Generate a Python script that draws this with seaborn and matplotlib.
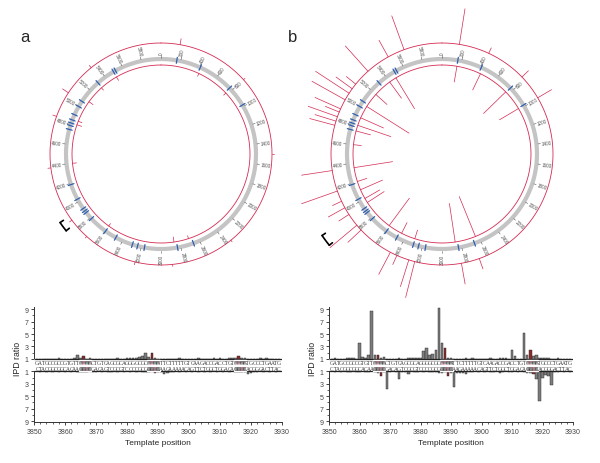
import numpy as np
import matplotlib
matplotlib.use("Agg")
import matplotlib.pyplot as plt
from matplotlib.patches import Rectangle
import pandas as pd
import seaborn as sns

# ---- circular map data (bp positions, spike lengths in px) ----
genome_len = 6000
ring_ticks = list(range(0, 6000, 200))
site_pos = [160, 407, 768, 983, 2667, 2833, 3167, 3238, 3292, 3473, 3595, 3785,
            3866, 3888, 3916, 4027, 4187, 4750, 4790, 4817, 4850, 4907, 5000,
            5061, 5308, 5500, 5523]

a_out_pos = [165, 800, 1500, 2350, 2900, 3225, 3700, 3890, 4380, 4830, 5058, 5350]
a_out_len = [6, 2, 2, 2, 2, 3, 2, 3, 3, 4, 7, 3]
a_in_pos = [420, 780, 2700, 2860, 3600, 4400, 4820, 4860, 5100, 5300, 5500]
a_in_len = [3, 3, 3, 5, 3, 4, 5, 4, 5, 3, 4]

b_out_pos = [150, 415, 768, 993, 2673, 2832, 3237, 3290, 3400, 3462, 3780, 3835,
             3950, 4017, 4080, 4175, 4357, 4750, 4787, 4827, 4870, 4900, 4987,
             5053, 5100, 5150, 5303, 5517, 5667]
b_out_len = [36, 6, 9, 16, 11, 21, 37, 28, 10, 25, 18, 35, 12, 19, 10, 38, 31,
             26, 22, 31, 15, 28, 38, 40, 20, 12, 34, 19, 36]
b_in_pos = [161, 427, 762, 988, 2632, 2858, 3297, 3450, 3607, 3950, 4000, 4105,
            4200, 4353, 4600, 4750, 4813, 4900, 5038, 5200, 5400, 5480]
b_in_len = [16, 18, 31, 22, 43, 39, 9, 12, 34, 20, 17, 24, 10, 39, 8, 15, 35,
            25, 50, 15, 20, 36]

# ---- IPD ratio data ----
positions = list(range(3851, 3930))
top_seq = "GATGCCGCCGTGTTCCGGCTGTCAGCGCAGGGGCGCCCGGTTCTTTTTGTCAAGACCGACCTGTCCGGTGCCCTGAATG"
bot_seq = "CTACGGCGGCACAAGGCCGACAGTCGCGTCCCCGCGGGCCAAGAAAAACAGTTCTGGCTGGACAGGCCACGGGACTTAC"
motif_start = [3865, 3887, 3915]
top_meth = [3866, 3888, 3916]
bot_meth = [3867, 3889, 3917]

a_top = [1.05, 1.0, 1.05, 1.0, 1.05, 1.0, 1.05, 1.1, 1.0, 1.05,
         1.0, 1.05, 1.1, 1.6, 1.2, 1.4, 1.05, 1.1, 1.0, 1.05,
         1.0, 1.05, 1.0, 1.05, 1.0, 1.05, 1.1, 1.0, 1.05, 1.1,
         1.1, 1.15, 1.2, 1.3, 1.5, 1.9, 1.3, 1.95, 1.1, 1.05,
         1.0, 1.05, 1.0, 1.05, 1.0, 1.05, 1.1, 1.0, 1.05, 1.0,
         1.05, 1.0, 1.1, 1.0, 1.05, 1.0, 1.05, 1.1, 1.05, 1.15,
         1.05, 1.0, 1.1, 1.15, 1.2, 1.5, 1.2, 1.1, 1.05, 1.0,
         1.05, 1.0, 1.1, 1.05, 1.15, 1.0, 1.05, 1.0, 1.05]
a_bot = [1.0, 1.05, 1.0, 1.05, 1.0, 1.05, 1.0, 1.05, 1.0, 1.05,
         1.0, 1.05, 1.0, 1.05, 1.1, 1.05, 1.15, 1.0, 1.1, 1.15,
         1.0, 1.05, 1.0, 1.1, 1.15, 1.0, 1.05, 1.0, 1.05, 1.0,
         1.05, 1.0, 1.05, 1.0, 1.05, 1.1, 1.05, 1.0, 1.2, 1.05,
         1.1, 1.4, 1.3, 1.1, 1.05, 1.0, 1.05, 1.0, 1.05, 1.0,
         1.05, 1.0, 1.05, 1.0, 1.05, 1.0, 1.05, 1.0, 1.05, 1.0,
         1.05, 1.0, 1.05, 1.0, 1.05, 1.1, 1.15, 1.1, 1.5, 1.25,
         1.1, 1.05, 1.0, 1.05, 1.0, 1.05, 1.0, 1.05, 1.0]
b_top = [1.05, 1.1, 1.0, 1.05, 1.0, 1.1, 1.15, 1.2, 1.0, 3.5,
         1.25, 1.2, 1.7, 8.7, 1.6, 1.6, 1.1, 1.3, 1.0, 1.05,
         1.0, 1.05, 1.1, 1.0, 1.05, 1.1, 1.15, 1.1, 1.2, 1.1,
         2.2, 2.8, 1.6, 1.8, 2.4, 9.2, 3.5, 2.7, 1.2, 1.15,
         1.05, 1.0, 1.05, 1.0, 1.1, 1.05, 1.1, 1.0, 1.05, 1.0,
         1.05, 1.0, 1.1, 1.0, 1.05, 1.1, 1.2, 1.1, 1.05, 2.4,
         1.4, 1.0, 1.05, 5.1, 1.7, 2.5, 1.4, 1.6, 1.2, 1.1,
         1.15, 1.1, 1.05, 1.0, 1.2, 1.0, 1.05, 1.0, 1.05]
b_bot = [1.0, 1.05, 1.0, 1.1, 1.0, 1.05, 1.1, 1.0, 1.05, 1.1,
         1.0, 1.05, 1.1, 1.0, 1.1, 1.3, 1.8, 1.1, 3.9, 1.1,
         1.0, 1.05, 2.3, 1.1, 1.05, 1.4, 1.0, 1.1, 1.05, 1.0,
         1.05, 1.0, 1.1, 1.05, 1.1, 1.2, 1.3, 1.1, 1.7, 1.2,
         3.5, 1.3, 1.3, 1.2, 1.45, 1.1, 1.05, 1.0, 1.05, 1.0,
         1.05, 1.0, 1.05, 1.1, 1.0, 1.2, 1.1, 1.0, 1.05, 1.1,
         1.0, 1.05, 1.0, 1.1, 1.2, 1.3, 1.5, 2.2, 5.7, 2.1,
         1.6, 1.8, 3.2, 1.1, 1.05, 1.0, 1.05, 1.0, 1.05]

sns.set_style("ticks")
plt.rcParams['font.family'] = ['Liberation Sans', 'DejaVu Sans']

RED = '#d42a52'
W, H = 600, 464
fig = plt.figure(figsize=(6, 4.64), dpi=100)

R_OUT, R_RING, R_IN = 111, 95, 89


def theta(p):
    return 2 * np.pi * p / genome_len


def draw_map(cx, cy, out_pos, out_len, in_pos, in_len, br_r):
    R = 160
    ax = fig.add_axes([(cx - R) / W, (H - cy - R) / H, 2 * R / W, 2 * R / H],
                      projection='polar')
    ax.set_theta_zero_location('N')
    ax.set_theta_direction(-1)
    ax.set_ylim(0, R)
    ax.axis('off')
    ax.patch.set_visible(False)
    th = np.linspace(0, 2 * np.pi, 721)
    ax.plot(th, np.full_like(th, R_RING), color='#c4c4c4', lw=3.0, zorder=1)
    ax.plot(th, np.full_like(th, R_OUT), color=RED, lw=0.6)
    ax.plot(th, np.full_like(th, R_IN), color=RED, lw=0.6)
    for p, h in zip(out_pos, out_len):
        ax.plot([theta(p)] * 2, [R_OUT, R_OUT + h], color=RED, lw=0.5)
    for p, h in zip(in_pos, in_len):
        ax.plot([theta(p)] * 2, [R_IN, R_IN - h], color=RED, lw=0.5)
    for p in site_pos:
        ax.plot([theta(p)] * 2, [R_RING - 3, R_RING + 3], color='#2f5fb0', lw=0.9, zorder=3)
    for v in ring_ticks:
        t = theta(v)
        ax.plot([t, t], [R_RING + 1.5, R_RING + 4], color='#555', lw=0.4)
        deg = np.degrees(t)
        if deg < 180:
            rot, ha = 90 - deg, 'left'
        else:
            rot, ha = 270 - deg, 'right'
        ax.text(t, R_RING + 5, str(v), rotation=rot, ha=ha, va='center',
                rotation_mode='anchor', fontsize=3.3, color='#555')
    # bracket marking the zoomed region
    tb = np.linspace(theta(3850), theta(3930), 20)
    ax.plot(tb, np.full_like(tb, br_r), color='black', lw=1.2)
    for t in (tb[0], tb[-1]):
        ax.plot([t, t], [br_r, br_r - 4], color='black', lw=1.2)
    return ax


draw_map(161, 155, a_out_pos, a_out_len, a_in_pos, a_in_len, 122)
draw_map(442, 155, b_out_pos, b_out_len, b_in_pos, b_in_len, 145)
fig.text(25 / W, 1 - 38 / H, 'a', fontsize=12, ha='center', va='center')
fig.text(293 / W, 1 - 38 / H, 'b', fontsize=12, ha='center', va='center')

pal = {'plain': '#7d7d7d', 'site': '#9b1c1c'}


def draw_ipd(x0, x1, top_vals, bot_vals):
    y0, y1 = 308, 423
    ax = fig.add_axes([x0 / W, (H - y1) / H, (x1 - x0) / W, (y1 - y0) / H])
    top = pd.DataFrame({'pos': positions, 'ipd': top_vals,
                        'kind': ['site' if p in top_meth else 'plain' for p in positions]})
    bot = pd.DataFrame({'pos': positions, 'ipd': [-v for v in bot_vals],
                        'kind': ['site' if p in bot_meth else 'plain' for p in positions]})
    for df in (top, bot):
        sns.barplot(data=df, x='pos', y='ipd', hue='kind', palette=pal,
                    native_scale=True, dodge=False, width=0.8, errorbar=None,
                    edgecolor='#222', linewidth=0.3, legend=False, ax=ax)
    ax.add_patch(Rectangle((3850, -1), 80, 2, facecolor='white', edgecolor='none', zorder=3))
    ax.hlines([1, -1], 3850, 3930, color='#222', lw=0.9, zorder=4)
    for s in motif_start:
        ax.add_patch(Rectangle((s - 0.5, 0.12), 4, 0.78, facecolor='#8a8a8a', zorder=4))
        ax.add_patch(Rectangle((s - 0.5, -0.9), 4, 0.78, facecolor='#8a8a8a', zorder=4))
    for i, p in enumerate(positions):
        ax.text(p, 0.5, top_seq[i], ha='center', va='center', fontsize=4.0,
                family='Liberation Serif', color=RED if p in top_meth else '#333', zorder=5)
        ax.text(p, -0.5, bot_seq[i], ha='center', va='center', fontsize=4.0,
                family='Liberation Serif', color=RED if p in bot_meth else '#333', zorder=5)
    ax.set_xlim(3850, 3930)
    ax.set_ylim(-9.15, 9.35)
    yt = [-9, -7, -5, -3, -1, 1, 3, 5, 7, 9]
    ax.set_yticks(yt)
    ax.set_yticklabels([str(abs(v)) for v in yt])
    ax.set_yticks([-8, -6, -4, -2, 2, 4, 6, 8], minor=True)
    ax.set_xticks(range(3850, 3931, 10))
    ax.set_xticks(range(3850, 3931, 2), minor=True)
    ax.tick_params(which='major', length=2.5, width=0.6, labelsize=5, labelcolor='#444', pad=1.5)
    ax.tick_params(which='minor', length=1.5, width=0.5)
    sns.despine(ax=ax)
    for sp in ('left', 'bottom'):
        ax.spines[sp].set_linewidth(0.7)
        ax.spines[sp].set_color('#333')
    ax.set_xlabel('Template position', fontsize=6, labelpad=3)
    ax.set_ylabel('IPD ratio', fontsize=6.3, labelpad=2)
    ax.yaxis.set_label_coords(-0.05, 0.56)
    return ax


draw_ipd(34, 282, a_top, a_bot)
draw_ipd(329, 573, b_top, b_bot)

fig.savefig('out.png', dpi=100)
